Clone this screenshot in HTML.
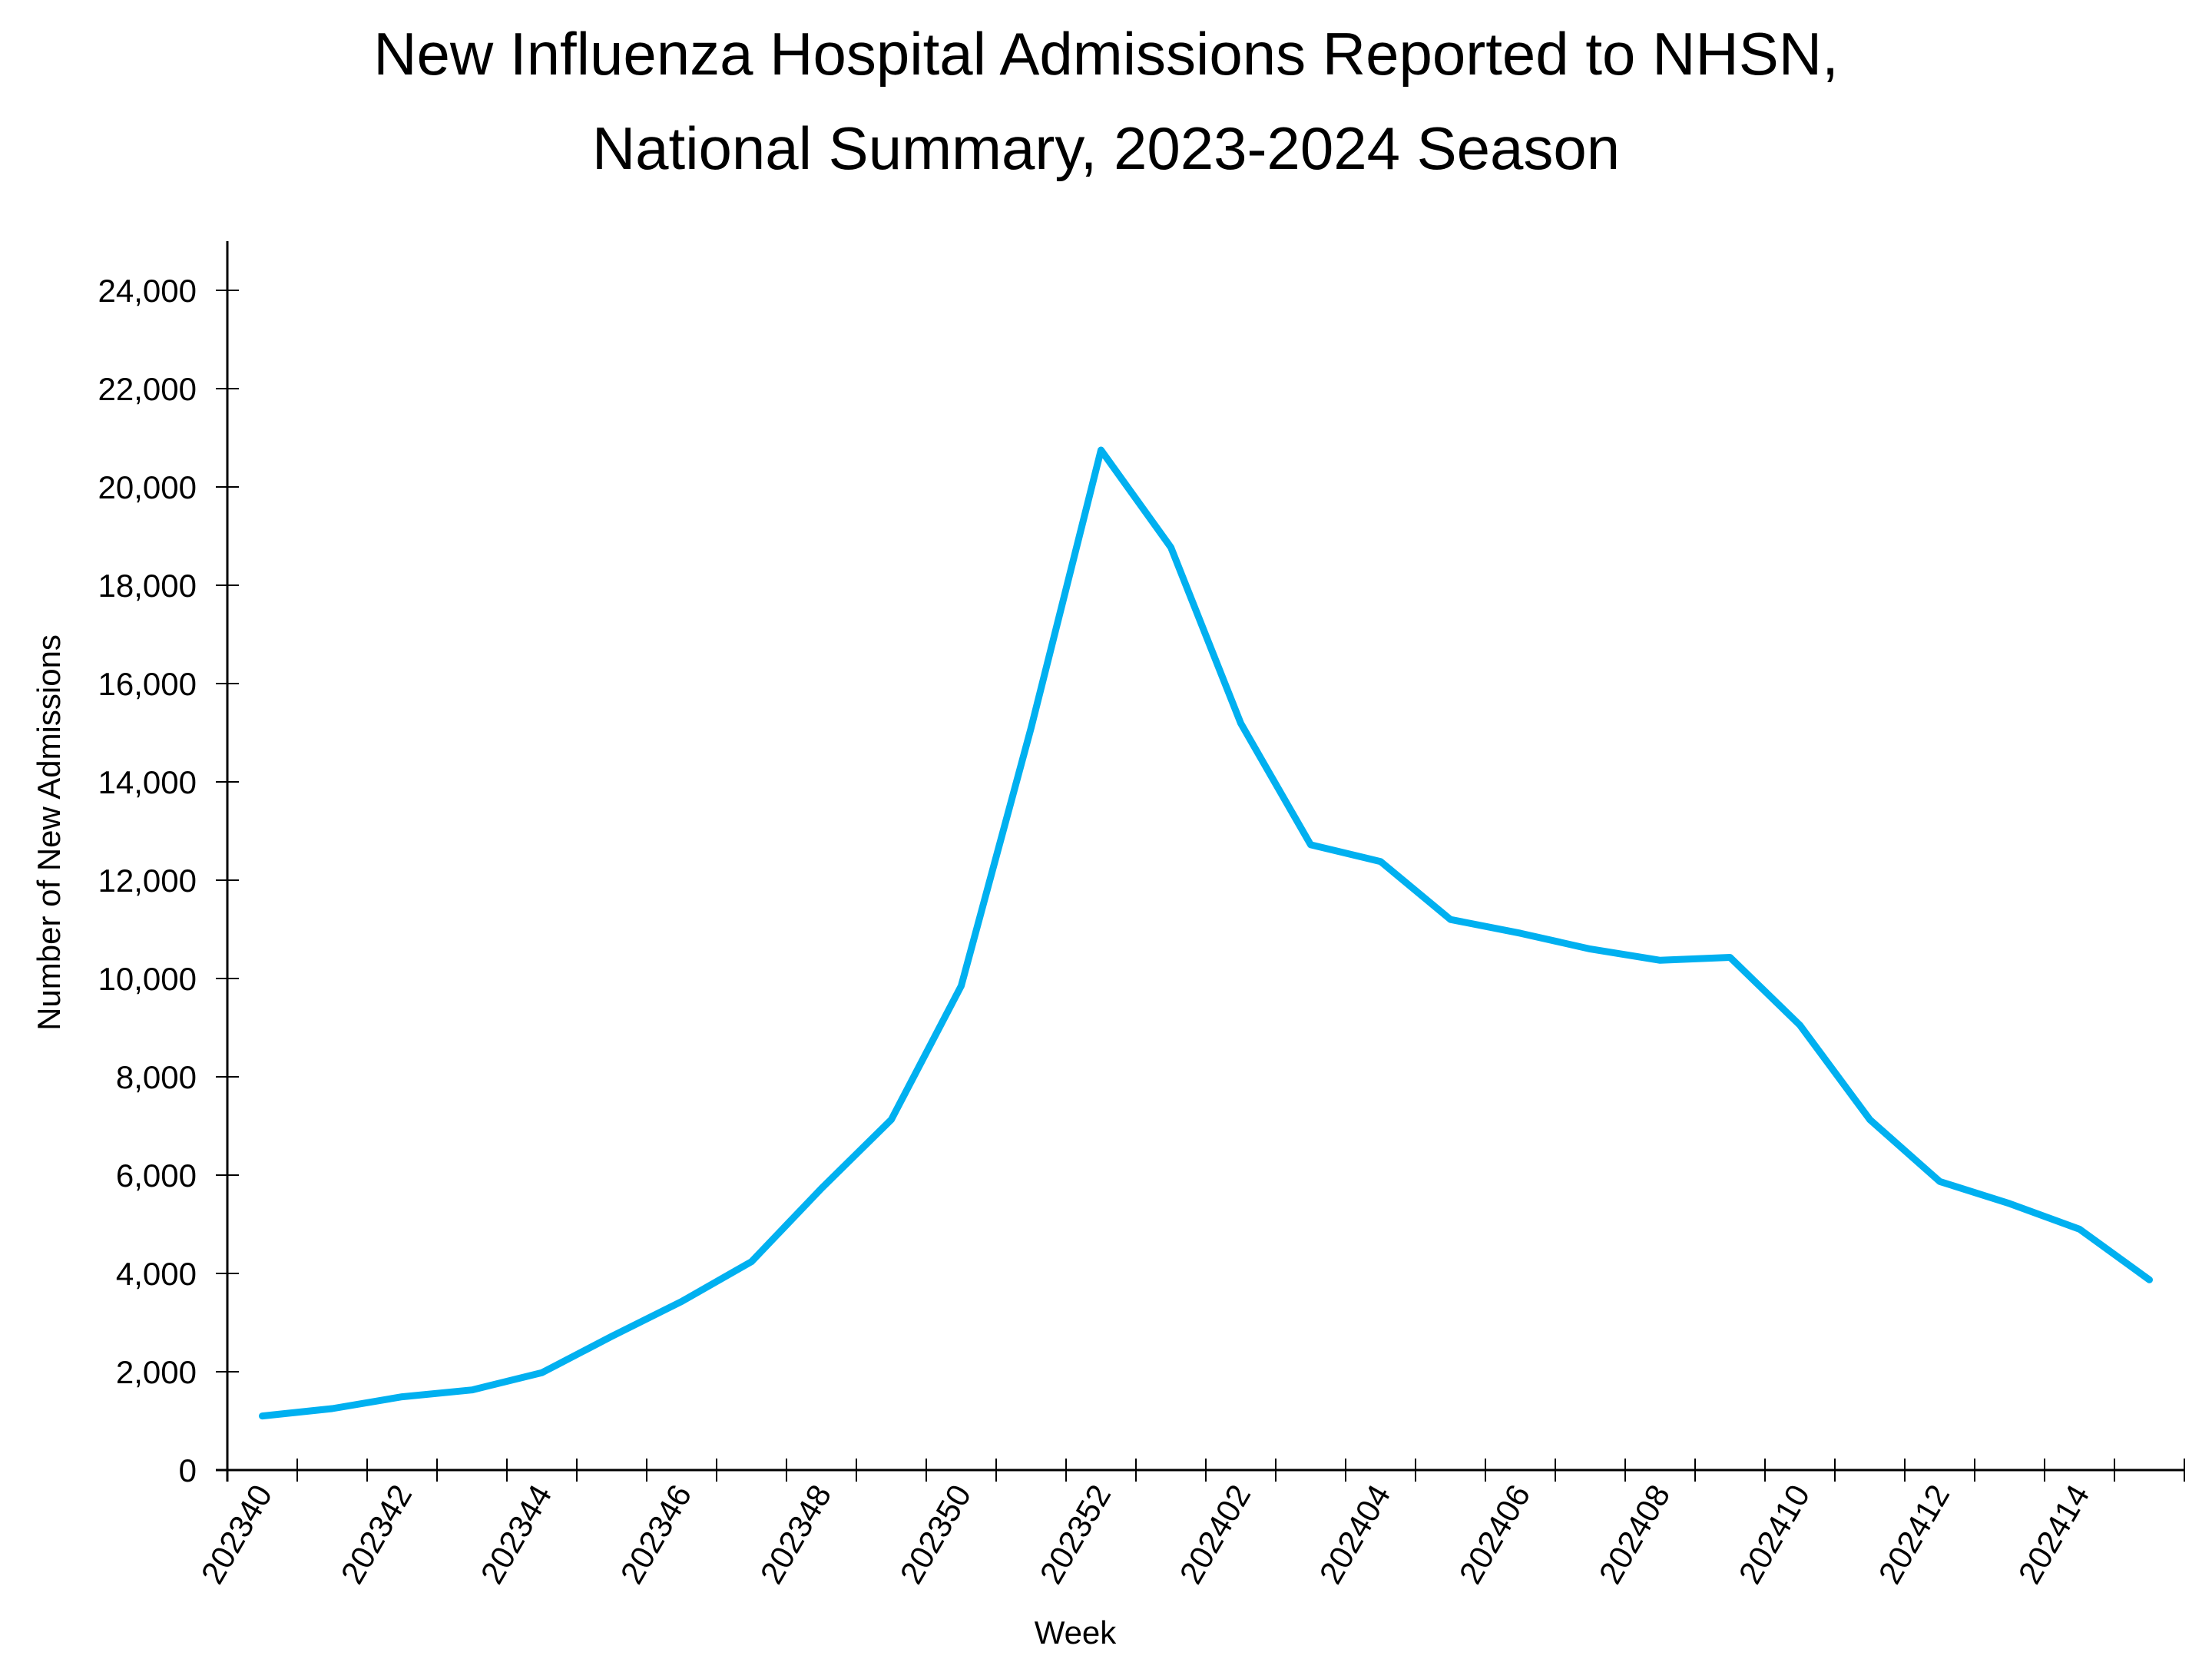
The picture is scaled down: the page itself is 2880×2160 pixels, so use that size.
<!DOCTYPE html>
<html><head><meta charset="utf-8"><style>html,body{margin:0;padding:0;background:#fff}svg{display:block}text{font-family:"Liberation Sans",sans-serif;fill:#000}</style></head>
<body>
<svg id="chart" width="2880" height="2160" viewBox="0 0 2880 2160">
<text x="1440" y="97" font-size="78" text-anchor="middle">New Influenza Hospital Admissions Reported to NHSN,</text>
<text x="1440" y="220" font-size="78" text-anchor="middle">National Summary, 2023-2024 Season</text>
<text transform="translate(78,1084) rotate(-90)" font-size="42" text-anchor="middle">Number of New Admissions</text>
<text x="1400" y="2140" font-size="42" text-anchor="middle">Week</text>
<g id="axes"></g>
<g id="marks"></g>
</svg>
<script>
const weeks=["202340","202341","202342","202343","202344","202345","202346","202347","202348","202349","202350","202351","202352","202401","202402","202403","202404","202405","202406","202407","202408","202409","202410","202411","202412","202413","202414","202415"];
const admissions=[1100,1250,1490,1630,1980,2720,3430,4240,5730,7130,9850,15100,20750,18770,15190,12720,12380,11200,10920,10600,10370,10430,9050,7130,5870,5420,4900,3870];
const yTicks=[0,2000,4000,6000,8000,10000,12000,14000,16000,18000,20000,22000,24000];
const NS="http://www.w3.org/2000/svg";
const x0=296,x1=2844,y0=1914,yTop=314;
const band=(x1-x0)/weeks.length;
const xs=i=>x0+band*(i+0.5);
const ys=v=>y0-(v/24000)*(1914-378);
const axes=document.getElementById('axes'),marks=document.getElementById('marks');
function mk(tag,attrs,parent){const e=document.createElementNS(NS,tag);for(const k in attrs)e.setAttribute(k,attrs[k]);parent.appendChild(e);return e;}
let a=mk('line',{x1:x0,y1:yTop,x2:x0,y2:y0+15,stroke:'#000','stroke-width':3},axes);


a=mk('line',{x1:x0-15,y1:y0,x2:x1,y2:y0,stroke:'#000','stroke-width':3},axes);


yTicks.forEach(v=>{
  const y=ys(v);
  const t=mk('line',{x1:x0-15,y1:y,x2:x0+15,y2:y,stroke:'#000','stroke-width':2},axes);
  
  
  const l=mk('text',{x:256,y:y+15,'font-size':42,'text-anchor':'end'},axes);
  l.textContent=v.toLocaleString('en-US');
  
  
});
for(let i=0;i<=weeks.length;i++){
  const x=x0+band*i;
  const t=mk('line',{x1:x,y1:y0-15,x2:x,y2:y0+15,stroke:'#000','stroke-width':2},axes);
  
  
}
weeks.forEach((w,i)=>{
  if(i%2!==0)return;
  const x=xs(i)+14,y=y0+30;
  const l=mk('text',{x:x,y:y,'font-size':42,'text-anchor':'end',transform:`rotate(-60 ${x} ${y})`},axes);
  l.textContent=w;
  
  
});
const pts=admissions.map((v,i)=>xs(i).toFixed(1)+','+ys(v).toFixed(1)).join(' ');
const line=mk('polyline',{points:pts,fill:'none',stroke:'#00B0F0','stroke-width':9,'stroke-linejoin':'round','stroke-linecap':'round'},marks);


</script>
</body></html>
